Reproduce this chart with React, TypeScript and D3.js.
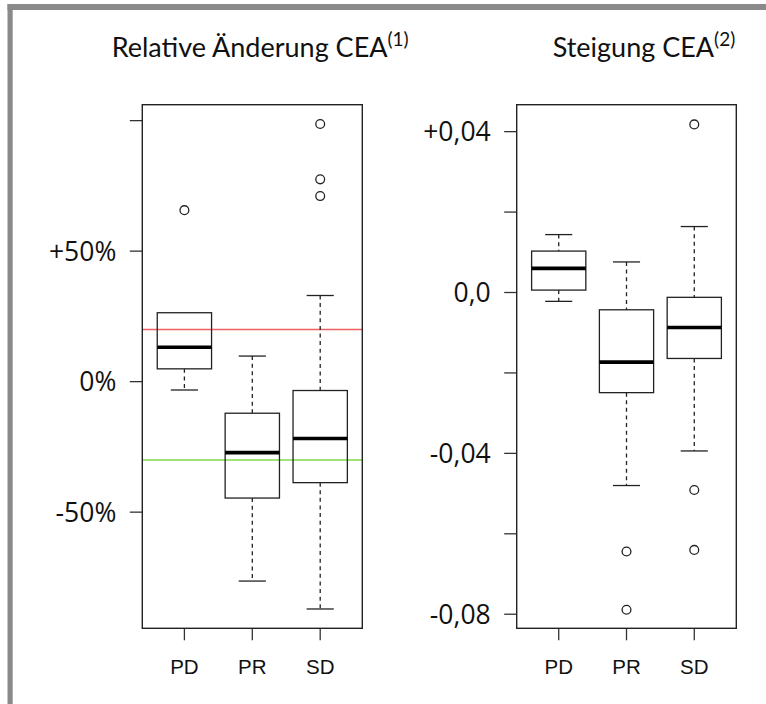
import React from 'react';
import * as d3 from 'd3';

// Groups shown on both panels
const categories = ['PD', 'PR', 'SD'];

// Relative Änderung CEA (percent): five-number summaries per group
const relLow = [-3.2, -76.4, -87.1];
const relQ1 = [4.9, -44.6, -38.7];
const relMedian = [13.2, -27.2, -21.8];
const relQ3 = [26.4, -12.1, -3.4];
const relHigh = [26.4, 9.8, 33.0];
const relOutliers = [[65.7], [], [98.7, 77.5, 71.1]];
const relTicks = [100, 50, 0, -50];
const relTickLabels = ['', '+50%', '0%', '-50%'];
const relRefValues = [20, -30];
const relRefColors = ['#ee6060', '#7fd84a'];

// Steigung CEA: five-number summaries per group
const slopeLow = [-0.0022, -0.048, -0.0394];
const slopeQ1 = [0.0006, -0.0249, -0.0164];
const slopeMedian = [0.006, -0.0173, -0.0087];
const slopeQ3 = [0.0103, -0.0043, -0.0012];
const slopeHigh = [0.0144, 0.0076, 0.0164];
const slopeOutliers = [[], [-0.0644, -0.0789], [0.0418, -0.0491, -0.064]];
const slopeTicks = [0.04, 0.02, 0, -0.02, -0.04, -0.06, -0.08];
const slopeTickLabels = ['+0,04', '', '0,0', '', '-0,04', '', '-0,08'];

type PanelProps = {
  left: number;
  right: number;
  top: number;
  bottom: number;
  yDomain: [number, number];
  low: number[];
  q1: number[];
  median: number[];
  q3: number[];
  high: number[];
  outliers: number[][];
  ticks: number[];
  tickLabels: string[];
  refValues?: number[];
  refColors?: string[];
  title: string;
  sup: string;
  titleX: number;
};

const TICK_FONT = "'Open Sans', 'Noto Sans', sans-serif";
const TITLE_FONT = "Lato, 'Open Sans', sans-serif";
const CAT_FONT = "'Liberation Sans', Arial, sans-serif";

function BoxPanel(p: PanelProps) {
  // Group positions 1..3 with the usual 4% padding around [0.5, 3.5]
  const x = d3.scaleLinear().domain([0.38, 3.62]).range([p.left, p.right]);
  const y = d3.scaleLinear().domain(p.yDomain).range([p.bottom, p.top]);
  const halfBox = x(1.4) - x(1);
  const halfCap = halfBox / 2;

  return (
    <g>
      <text x={p.titleX} y={56.7} style={{ fontFamily: TITLE_FONT, fontSize: '27px' }} fill="#111">
        {p.title}
        <tspan dy={-11} style={{ fontSize: '19px' }}>{p.sup}</tspan>
      </text>

      {/* reference lines */}
      {(p.refValues || []).map((v, i) => (
        <line key={'ref' + i} x1={p.left} x2={p.right} y1={y(v)} y2={y(v)}
          stroke={(p.refColors || [])[i]} strokeWidth={1.4} />
      ))}

      {categories.map((c, i) => {
        const cx = x(i + 1);
        return (
          <g key={c}>
            {/* whiskers */}
            {p.high[i] > p.q3[i] && (
              <line x1={cx} x2={cx} y1={y(p.high[i])} y2={y(p.q3[i])}
                stroke="#222" strokeWidth={1.3} strokeDasharray="4,3.6" />
            )}
            <line x1={cx} x2={cx} y1={y(p.q1[i])} y2={y(p.low[i])}
              stroke="#222" strokeWidth={1.3} strokeDasharray="4,3.6" />
            {p.high[i] > p.q3[i] && (
              <line x1={cx - halfCap} x2={cx + halfCap} y1={y(p.high[i])} y2={y(p.high[i])}
                stroke="#222" strokeWidth={1.3} />
            )}
            <line x1={cx - halfCap} x2={cx + halfCap} y1={y(p.low[i])} y2={y(p.low[i])}
              stroke="#222" strokeWidth={1.3} />
            {/* box */}
            <rect x={cx - halfBox} y={y(p.q3[i])} width={2 * halfBox}
              height={y(p.q1[i]) - y(p.q3[i])} fill="none" stroke="#222" strokeWidth={1.3} />
            {/* median */}
            <line x1={cx - halfBox} x2={cx + halfBox} y1={y(p.median[i])} y2={y(p.median[i])}
              stroke="#000" strokeWidth={3.6} />
            {/* outliers */}
            {p.outliers[i].map((v, j) => (
              <circle key={j} cx={cx} cy={y(v)} r={4.4} fill="none" stroke="#222" strokeWidth={1.3} />
            ))}
            {/* category axis */}
            <line x1={cx} x2={cx} y1={p.bottom} y2={p.bottom + 12} stroke="#333" strokeWidth={1.3} />
            <text x={cx} y={674} textAnchor="middle" style={{ fontFamily: CAT_FONT, fontSize: '20.5px' }} fill="#111">
              {c}
            </text>
          </g>
        );
      })}

      {/* value axis */}
      {p.ticks.map((t, i) => (
        <g key={'t' + i}>
          <line x1={p.left - 12.5} x2={p.left} y1={y(t)} y2={y(t)} stroke="#333" strokeWidth={1.3} />
          {p.tickLabels[i] && (
            <text x={p.left - 26} y={y(t)} dy="0.36em" textAnchor="end"
              style={{ fontFamily: TICK_FONT, fontSize: '26.5px' }} fill="#111">
              {p.tickLabels[i]}
            </text>
          )}
        </g>
      ))}

      {/* plot frame */}
      <rect x={p.left} y={p.top} width={p.right - p.left} height={p.bottom - p.top}
        fill="none" stroke="#222" strokeWidth={1.4} />
    </g>
  );
}

export default function App() {
  return (
    <svg width={766} height={704} viewBox="0 0 766 704"
      style={{ position: 'fixed', left: 0, top: 0, background: '#fff' }}>
      <rect x={0} y={0} width={766} height={704} fill="#fff" />
      {/* outer frame */}
      <rect x={7.5} y={4} width={770} height={6} fill="#8a8a8a" />
      <rect x={7.5} y={4} width={5.2} height={710} fill="#8a8a8a" />

      <BoxPanel
        left={142.3} right={362.3} top={104.7} bottom={628.3}
        yDomain={[-94.5, 106.1]}
        low={relLow} q1={relQ1} median={relMedian} q3={relQ3} high={relHigh}
        outliers={relOutliers} ticks={relTicks} tickLabels={relTickLabels}
        refValues={relRefValues} refColors={relRefColors}
        title="Relative Änderung CEA" sup="(1)" titleX={111.7}
      />
      <BoxPanel
        left={516.7} right={736.3} top={104.7} bottom={628.3}
        yDomain={[-0.0835, 0.0467]}
        low={slopeLow} q1={slopeQ1} median={slopeMedian} q3={slopeQ3} high={slopeHigh}
        outliers={slopeOutliers} ticks={slopeTicks} tickLabels={slopeTickLabels}
        title="Steigung CEA" sup="(2)" titleX={552.7}
      />
    </svg>
  );
}
